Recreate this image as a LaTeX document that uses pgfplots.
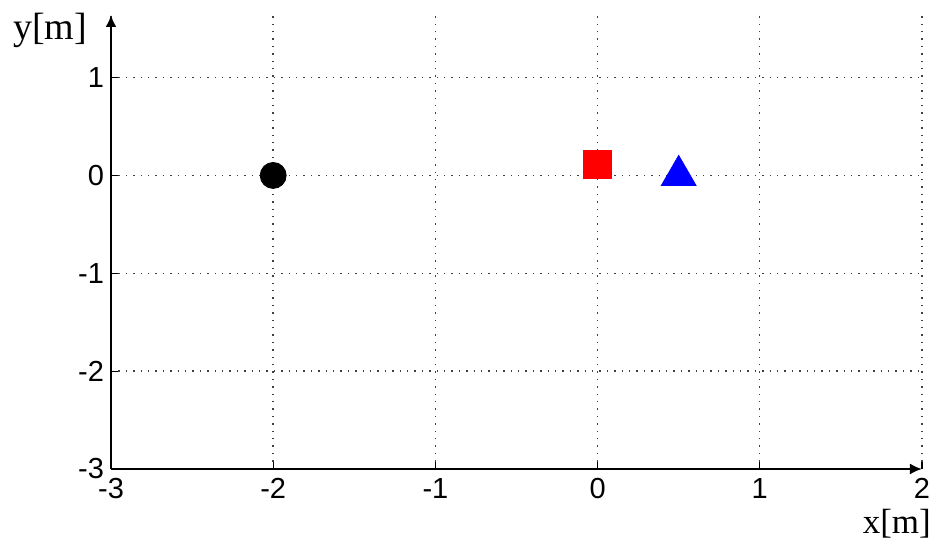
\documentclass[border=0pt]{standalone}
\usepackage{pgfplots}
\pgfplotsset{compat=1.18}
\usetikzlibrary{arrows.meta}
\usepackage{fontspec}
\setmainfont{Liberation Sans}
\newfontfamily\timesfont{Liberation Serif}
\begin{document}
\begin{tikzpicture}
\path[use as bounding box] (-55.5pt,-37.5pt) rectangle (413pt,234.5pt);
\begin{axis}[
  at={(0pt,0pt)}, anchor=south west,
  scale only axis, width=405.5pt, height=227pt,
  xmin=-3, xmax=2, ymin=-3, ymax=1.64,
  axis lines=left,
  axis line style={line width=1.1pt, -{Latex[length=6pt,width=5.5pt]}},
  xtick={-3,-2,-1,0,1,2}, ytick={-3,-2,-1,0,1},
  tick align=inside, major tick length=3.5pt,
  tick style={black, line width=0.6pt},
  grid=major,
  grid style={line width=0.7pt, black!75, dash pattern=on 0.7pt off 3pt},
  /pgf/number format/assume math mode=true,
  tick label style={font=\fontsize{14.5}{14.5}\selectfont},
  xticklabel style={yshift=-1pt},
  every axis x label/.style={at={(axis description cs:0.969,-0.121)}, anchor=center, font=\timesfont\fontsize{17.5}{17.5}\selectfont},
  every axis y label/.style={at={(axis description cs:-0.075,0.965)}, anchor=center, font=\timesfont\fontsize{19}{19}\selectfont},
  xlabel={x[m]}, ylabel={y[m]},
  clip=false,
]
\addplot[only marks, mark=*, mark size=6.5pt, black] coordinates {(-2,0)};
\addplot[only marks, mark=square*, mark size=7pt, red, mark options={fill=red, draw=red}] coordinates {(0,0.11)};
\addplot[only marks, mark=triangle*, mark size=10pt, blue, mark options={fill=blue, draw=blue}] coordinates {(0.5,0.0)};
\end{axis}
\end{tikzpicture}
\end{document}
